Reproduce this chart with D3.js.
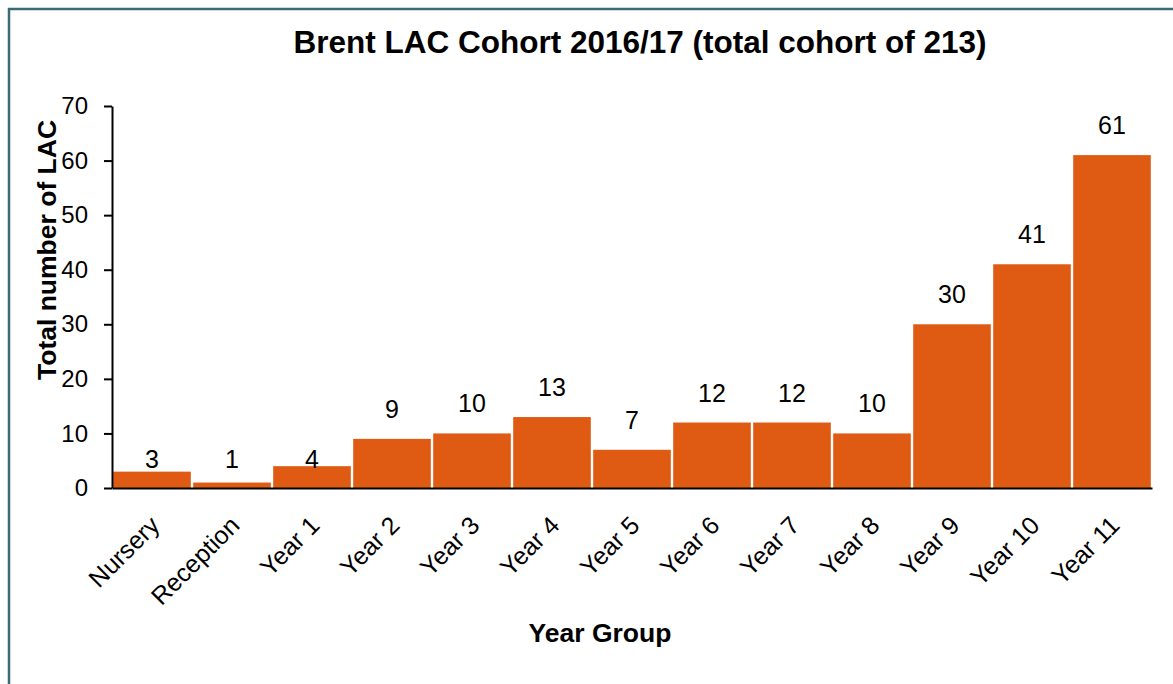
<!DOCTYPE html>
<html>
<head>
<meta charset="utf-8">
<script src="https://cdn.jsdelivr.net/npm/d3@7"></script>
<style>
	body { margin: 0; background: #fff; }
	text { font-family: Arial, "Liberation Sans", sans-serif; fill: #000; }
</style>
</head>
<body>
<svg id="chart" width="1173" height="684"></svg>
<script>
// data
let categories = ["Nursery", "Reception", "Year 1", "Year 2", "Year 3", "Year 4", "Year 5", "Year 6", "Year 7", "Year 8", "Year 9", "Year 10", "Year 11"];
let counts = [3, 1, 4, 9, 10, 13, 7, 12, 12, 10, 30, 41, 61];
let yTicks = [0, 10, 20, 30, 40, 50, 60, 70];

let width = 1173,
	height = 684,
	plotLeft = 112,
	plotRight = 1152,
	plotTop = 106,
	plotBottom = 488;

let svg = d3.select("#chart");

// outer frame (runs off the right and bottom edges in the reference)
svg.append("rect")
	.attr("x", 9).attr("y", 9)
	.attr("width", width + 10).attr("height", height + 10)
	.attr("fill", "none")
	.attr("stroke", "#3b6b76")
	.attr("stroke-width", 2.5);

let x = d3.scaleBand()
	.domain(categories)
	.range([plotLeft, plotRight])
	.paddingInner(0.03)
	.paddingOuter(0.015);

let y = d3.scaleLinear()
	.domain([0, 70])
	.range([plotBottom, plotTop]);

// bars
svg.selectAll("rect.bar")
	.data(counts)
	.join("rect")
	.attr("class", "bar")
	.attr("x", (d, i) => x(categories[i]))
	.attr("y", d => y(d))
	.attr("width", x.bandwidth())
	.attr("height", d => y(0) - y(d))
	.attr("fill", "#df5b14");

// value labels (the very short bars keep theirs down near the axis, as in the original)
svg.selectAll("text.val")
	.data(counts)
	.join("text")
	.attr("class", "val")
	.attr("x", (d, i) => x(categories[i]) + x.bandwidth() / 2)
	.attr("y", d => d < 5 ? 468 : y(d) - 21)
	.attr("text-anchor", "middle")
	.attr("font-size", 25)
	.text(d => d);

// y axis
let yAxis = svg.append("g")
	.attr("transform", `translate(${plotLeft},0)`)
	.call(d3.axisLeft(y).tickValues(yTicks).tickSize(8).tickPadding(16).tickSizeOuter(0));
yAxis.select(".domain").attr("stroke", "#000").attr("stroke-width", 2);
yAxis.selectAll(".tick line").attr("stroke", "#000").attr("stroke-width", 2);
yAxis.selectAll(".tick text")
	.attr("font-size", 24)
	.attr("font-family", "Arial, 'Liberation Sans', sans-serif")
	.attr("fill", "#000");

// x axis
let xAxis = svg.append("g")
	.attr("transform", `translate(0,${plotBottom})`)
	.call(d3.axisBottom(x).tickSize(0).tickSizeOuter(0));
xAxis.select(".domain").attr("stroke", "#000").attr("stroke-width", 2);
xAxis.selectAll(".tick text")
	.attr("font-size", 25)
	.attr("font-family", "Arial, 'Liberation Sans', sans-serif")
	.attr("fill", "#000")
	.attr("text-anchor", "end")
	.attr("dy", null)
	.attr("y", 0)
	.attr("transform", "translate(9,39) rotate(-45)");

// titles
svg.append("text")
	.attr("x", 640).attr("y", 53)
	.attr("text-anchor", "middle")
	.attr("font-size", 31.5)
	.attr("font-weight", "bold")
	.text("Brent LAC Cohort 2016/17 (total cohort of 213)");

svg.append("text")
	.attr("transform", "translate(56,250) rotate(-90)")
	.attr("text-anchor", "middle")
	.attr("font-size", 26.5)
	.attr("font-weight", "bold")
	.text("Total number of LAC");

svg.append("text")
	.attr("x", 600).attr("y", 642)
	.attr("text-anchor", "middle")
	.attr("font-size", 26.5)
	.attr("font-weight", "bold")
	.text("Year Group");
</script>
</body>
</html>
